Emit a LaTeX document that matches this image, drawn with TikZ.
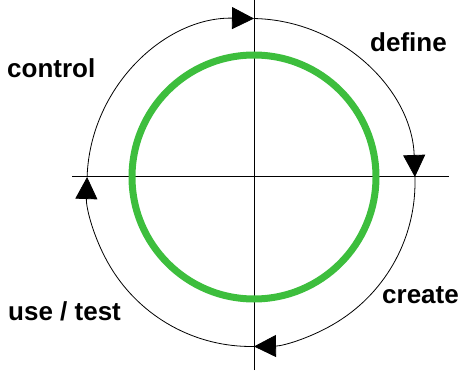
\documentclass[tikz,border=0pt]{standalone}
\usepackage{fontspec}
\setmainfont{Liberation Sans}
\usetikzlibrary{arrows.meta,calc}
\definecolor{cyclegreen}{HTML}{3DBE3D}
\tikzset{
  axis/.style={draw=black,line width=1pt},
  orbit/.style={draw=black,line width=0.8pt},
  orbitarrow/.style={orbit,-{Triangle[length=22pt,width=22pt]}},
  core/.style={draw=cyclegreen,line width=7pt},
  phase/.style={font=\fontsize{26}{31}\selectfont\bfseries,inner sep=0pt,anchor=base west},
}
\begin{document}
\begin{tikzpicture}[x=1pt,y=1pt]
  \useasboundingbox (0,0) rectangle (463,370);
  \coordinate (mid) at (254,193);
  \coordinate (hub) at (251,187.5);
  \draw[axis] (254,0) -- (254,370);
  \draw[axis] (72,193) -- (449,193);
  \draw[core] (mid) circle[radius=122];
  \foreach \a/\b in {178.08/88.95,88.95/1.92,1.92/-88.95,-88.95/-181.92}
    \draw[orbitarrow] ($(hub)+(\a:164)$) arc[start angle=\a,end angle=\b,radius=164];
  \node[phase] (control) at (7,292) {control};
  \node[phase] (define) at (370,318) {define};
  \node[phase] (create) at (382,67) {create};
  \node[phase] (usetest) at (8,50) {use / test};
\end{tikzpicture}
\end{document}
